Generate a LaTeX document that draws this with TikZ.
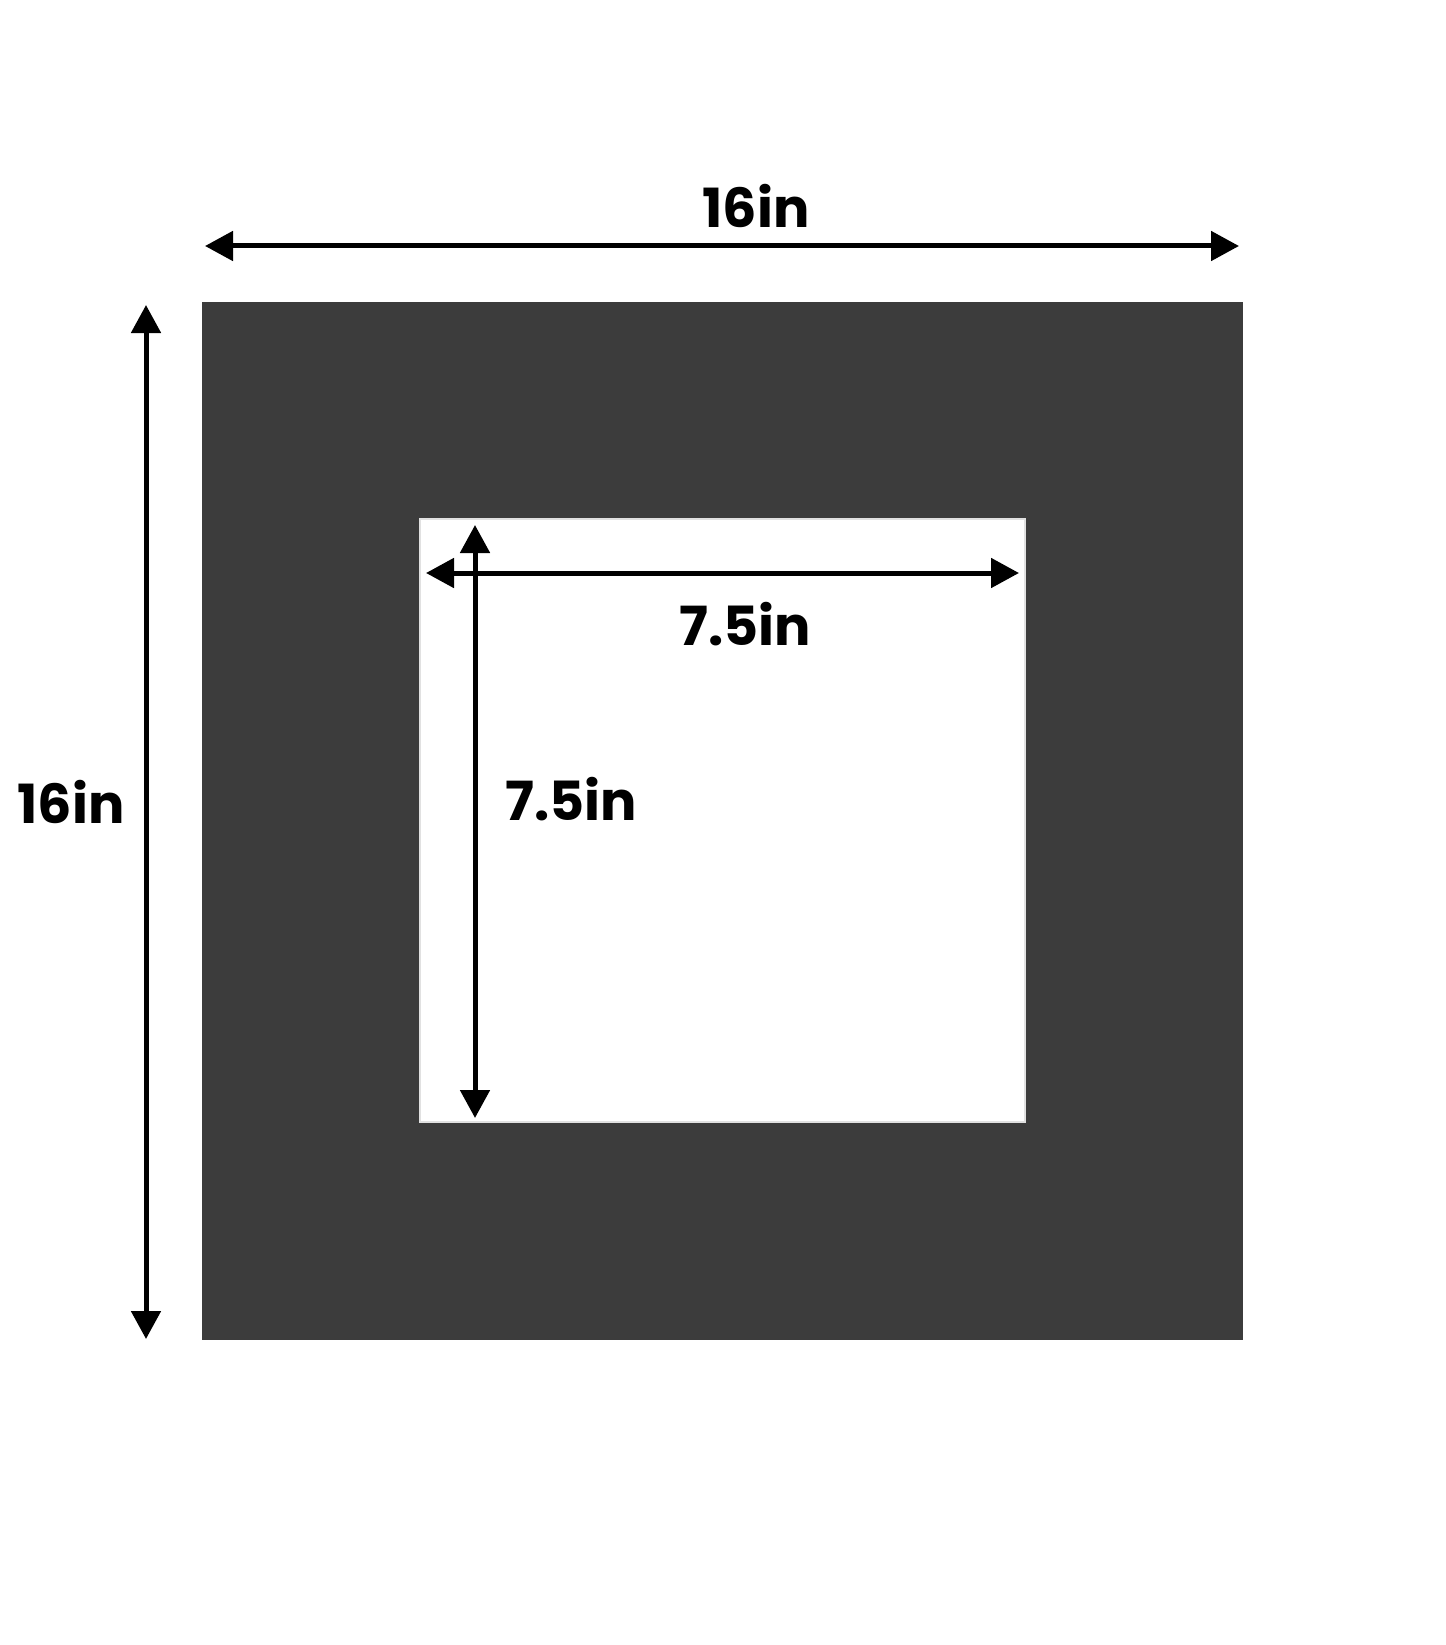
\documentclass[tikz,border=0pt]{standalone}
\usepackage{fontspec}
\setmainfont{Poppins}[BoldFont={* Bold}]
\usetikzlibrary{arrows.meta}
\definecolor{matgray}{RGB}{60,60,60}
\definecolor{bevel}{RGB}{225,225,225}
\tikzset{
  dim/.style={line width=5pt, black, {Triangle[length=28pt,width=29pt]}-{Triangle[length=28pt,width=29pt]}, shorten <=0pt, shorten >=0pt},
  lbl/.style={anchor=base, inner sep=0pt, font=\fontsize{54}{60}\selectfont\bfseries, text=black}
}
\begin{document}
\begin{tikzpicture}[x=1pt,y=-1pt]
\useasboundingbox (0,0) rectangle (1445,1645);
% mat
\fill[matgray] (202,302) coordinate (matTL) rectangle (1243,1340) coordinate (matBR);
\fill[white] (420,519) coordinate (winTL) rectangle (1025,1122) coordinate (winBR);
\draw[bevel, line width=1.2pt] (winTL) rectangle (winBR);
% arrow end points
\coordinate (tL) at (205,246);
\coordinate (tR) at (1239,246);
\coordinate (lT) at (146,305);
\coordinate (lB) at (146,1339);
\coordinate (hL) at (426,573);
\coordinate (hR) at (1019,573);
\coordinate (vT) at (475,525);
\coordinate (vB) at (475,1118);
\draw[dim] (tL) -- (tR);
\draw[dim] (lT) -- (lB);
\draw[dim] (hL) -- (hR);
\draw[dim] (vT) -- (vB);
% labels
\node[lbl] (topLbl) at (756,228) {16in};
\node[lbl] (leftLbl) at (71,823) {16in};
\node[lbl] (hLbl) at (745,645) {7.5in};
\node[lbl] (vLbl) at (571,820) {7.5in};
\end{tikzpicture}
\end{document}
